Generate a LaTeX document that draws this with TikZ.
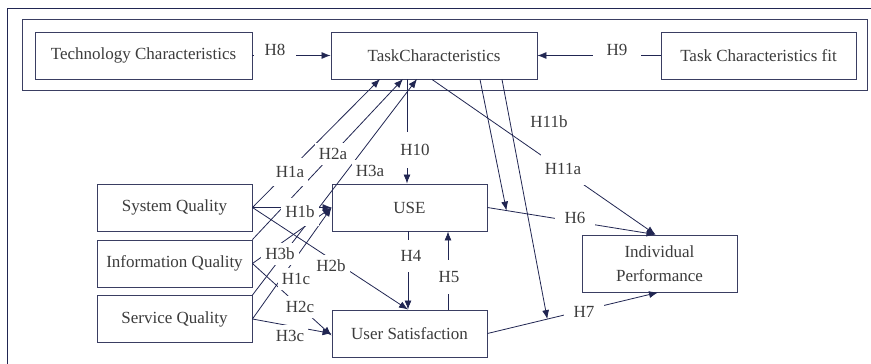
\documentclass[tikz,border=0pt]{standalone}
\usepackage{fontspec}
\setmainfont{Liberation Serif}
\usetikzlibrary{arrows.meta,calc}
\definecolor{linenavy}{RGB}{33,38,82}
\definecolor{boxnavy}{RGB}{58,62,98}
\definecolor{txtgray}{RGB}{60,60,60}
\tikzset{
  box/.style={draw=boxnavy, line width=0.9pt, fill=white, minimum width=155pt,
    minimum height=47pt, inner sep=0pt, text=txtgray, align=center,
    font=\fontsize{17}{24}\selectfont},
  hyp/.style={fill=white, inner xsep=4pt, inner ysep=8pt, text=txtgray,
    font=\fontsize{17}{19}\selectfont},
  link/.style={draw=linenavy, line width=0.8pt},
  arr/.style={link, -{Latex[length=9pt,width=7pt]}},
}
\begin{document}
\begin{tikzpicture}[x=1pt,y=-1pt]
\clip (0,0) rectangle (871,364);
\fill[white] (0,0) rectangle (871,364);
\draw[linenavy, line width=0.9pt] (7,380) -- (7,8) -- (880,8);
\draw[boxnavy, line width=0.9pt] (22,19) rectangle (867,90);

% boxes
\node[box, minimum width=217pt] (tech) at (143.5,55.5) {Technology Characteristics};
\node[box, minimum width=206pt] (task) at (434,55.5) {TaskCharacteristics};
\node[box, minimum width=195pt] (fit) at (758.5,55.5) {Task Characteristics fit};
\node[box] (sys) at (174.5,207.5) {System Quality};
\node[box] (info) at (174.5,263.5) {Information Quality};
\node[box] (serv) at (174.5,319) {Service Quality};
\node[box] (use) at (409.5,207.5) {USE};
\node[box] (sat) at (409.5,333.5) {User Satisfaction};
\node[box, minimum height=57pt] (perf) at (659.5,263.5) {Individual\\Performance};

% tips on the task box and on other links
\coordinate (t1) at (380,79);
\coordinate (t2) at (403,79);
\coordinate (t3) at (417,79);
\coordinate (ptop) at ([xshift=-4pt]perf.north);
\coordinate (c6) at ($(use.east)!0.113!(ptop)$);
\coordinate (c7) at ($(sat.east)!0.351!([xshift=-1.5pt]perf.south)$);

% links
\draw[arr] (tech.east) -- (task.west);
\draw[arr] (fit.west) -- (task.east);
\draw[arr] (sys.east) -- (t1);
\draw[arr] (info.north east) -- (t2);
\draw[arr] (serv.north east) -- (t3);
\draw[arr] (sys.east) -- (use.west);
\draw[arr] (info.east) -- (use.west);
\draw[arr] (serv.east) -- (use.west);
\draw[arr] (sys.east) -- ([xshift=-1.5pt]sat.north);
\draw[arr] (info.east) -- ([yshift=-2pt]sat.west);
\draw[arr] (serv.east) -- (sat.west);
\draw[arr] ([xshift=-27pt]task.south) -- ([xshift=-27pt]task.south |- use.north);
\draw[arr] ([xshift=-1.5pt]use.south) -- ([xshift=-1.5pt]sat.north);
\draw[arr] ([xshift=38.5pt]sat.north) -- ([xshift=38.5pt]use.south);
\draw[arr] ([xshift=-2pt]task.south) -- (ptop);
\draw[arr] (use.east) -- (ptop);
\draw[arr] (sat.east) -- ([xshift=-1.5pt]perf.south);
\draw[arr] ([xshift=46pt]task.south) -- (c6);
\draw[arr] ([xshift=68pt]task.south) -- (c7);

% hypothesis labels
\node[hyp, inner xsep=11pt, inner ysep=5pt] (h8) at (275,50) {H8};
\node[hyp, inner xsep=14pt, inner ysep=5pt] (h9) at (617,50) {H9};
\node[hyp] (h1a) at (290,172) {H1a};
\node[hyp, inner ysep=5pt] (h2a) at (333,154) {H2a};
\node[hyp, inner ysep=5pt] (h3a) at (370,171) {H3a};
\node[hyp] (h1b) at (300,212) {H1b};
\node[hyp, inner ysep=5pt] (h3b) at (280,254) {H3b};
\node[hyp, inner ysep=5pt] (h1c) at (296,279) {H1c};
\node[hyp, inner ysep=5pt] (h2b) at (331,266) {H2b};
\node[hyp, inner ysep=5pt] (h2c) at (300,307) {H2c};
\node[hyp, inner ysep=5pt] (h3c) at (290,336) {H3c};
\node[hyp, inner ysep=12pt] (h10) at (415,150) {H10};
\node[hyp, inner ysep=10pt] (h4) at (411,256) {H4};
\node[hyp, inner ysep=11pt] (h5) at (449,277) {H5};
\node[hyp, inner xsep=10pt, inner ysep=4pt] (h6) at (575,218) {H6};
\node[hyp, inner xsep=10pt, inner ysep=4pt] (h7) at (584,312) {H7};
\node[hyp, inner ysep=10pt] (h11a) at (563,169) {H11a};
\node[hyp, inner ysep=3pt] (h11b) at (549,122) {H11b};
\end{tikzpicture}
\end{document}
